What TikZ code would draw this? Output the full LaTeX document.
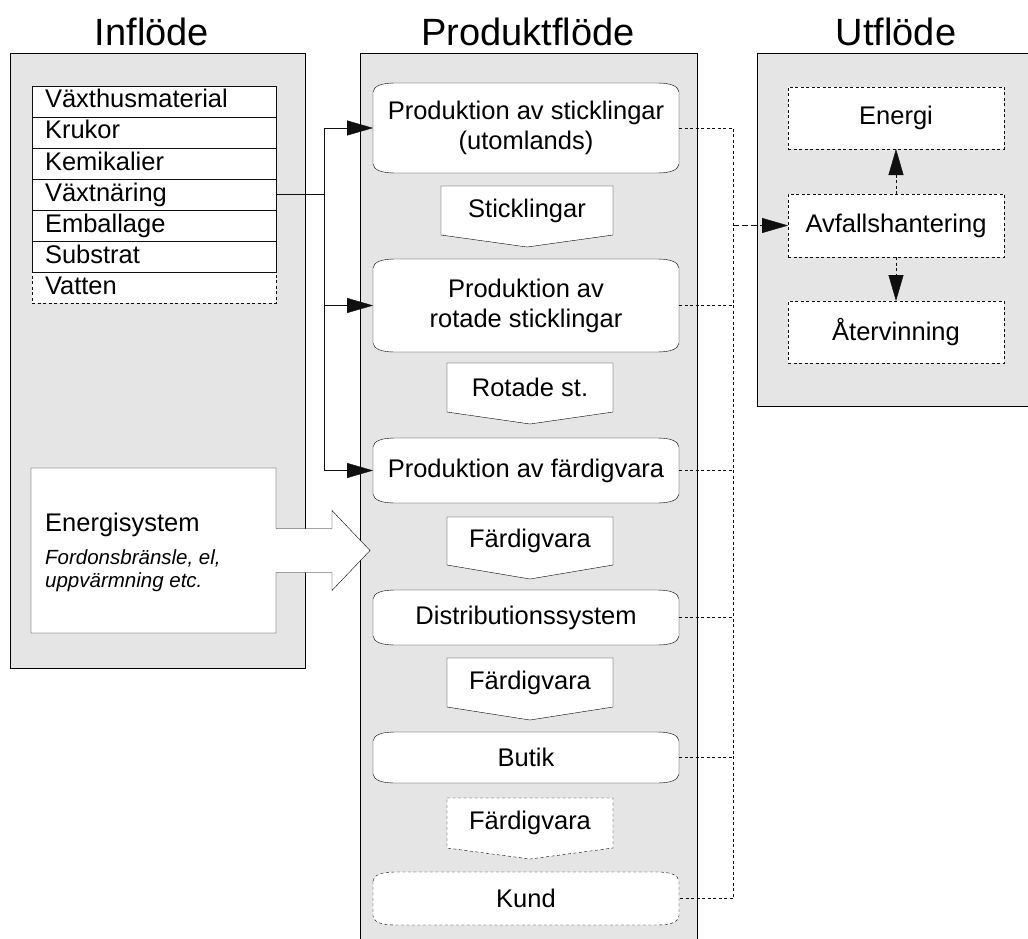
\documentclass[tikz,border=0pt]{standalone}
\usepackage{fontspec}
\setmainfont{Liberation Sans}
\usetikzlibrary{arrows.meta}
\pgfdeclarelayer{panels}
\pgfdeclarelayer{shapes}
\pgfsetlayers{panels,shapes,main}
\definecolor{panelgray}{RGB}{229,229,229}
\definecolor{lineblack}{RGB}{15,15,15}

% outline of a rounded process box around node #2
\newcommand\prodoutline[2][]{%
  \draw[fill=white,#1]
    ([shift={(0,9)}]#2.north west)
      .. controls ([shift={(1,3)}]#2.north west) and ([shift={(8,0)}]#2.north west) ..
    ([shift={(22,0)}]#2.north west)
    -- ([shift={(-22,0)}]#2.north east)
      .. controls ([shift={(-8,0)}]#2.north east) and ([shift={(-1,3)}]#2.north east) ..
    ([shift={(0,9)}]#2.north east)
    -- ([shift={(0,-9)}]#2.south east)
      .. controls ([shift={(-1,-3)}]#2.south east) and ([shift={(-8,0)}]#2.south east) ..
    ([shift={(-22,0)}]#2.south east)
    -- ([shift={(22,0)}]#2.south west)
      .. controls ([shift={(8,0)}]#2.south west) and ([shift={(1,-3)}]#2.south west) ..
    ([shift={(0,-9)}]#2.south west)
    -- cycle;}

% outline of a flow label (pentagon pointing down) around node #2, tip depth #3
\newcommand\pentoutline[3][]{%
  \draw[fill=white,#1] (#2.north west) -- (#2.north east) -- (#2.south east)
    -- ([shift={(0,#3)}]#2.south) -- (#2.south west) -- cycle;}

\tikzset{
  bodyfont/.style={font=\fontsize{25.5}{30}\selectfont},
  hdr/.style={font=\fontsize{38}{40}\selectfont, anchor=base, inner sep=0pt},
  dotpat/.style={dash pattern=on 3pt off 2.5pt},
  dashpat/.style={dash pattern=on 6pt off 3pt},
  listrow/.style={draw, fill=white, bodyfont, minimum width=244pt, minimum height=31pt,
    text width=218pt, align=left, inner xsep=13pt, inner ysep=0pt,
    text height=19pt, text depth=6pt, anchor=north west, outer sep=0pt},
  prodbox/.style={bodyfont, minimum width=306pt, outer sep=0pt, inner sep=0pt, align=center},
  flowlbl/.style={bodyfont, outer sep=0pt, inner sep=0pt},
  wastebox/.style={draw, dotpat, fill=white, bodyfont, minimum width=216pt,
    minimum height=62pt, outer sep=0pt},
  arrowhd/.style={-{Triangle[length=26pt,width=15pt]}},
}

\begin{document}
\begin{tikzpicture}[x=1pt,y=-1pt,line width=1.7pt,draw=lineblack]
\useasboundingbox (0,0) rectangle (1028,939);

% headers
\node[hdr] (hIn) at (152,46) {Inflöde};
\node[hdr] (hProd) at (528,46) {Produktflöde};
\node[hdr] (hUt) at (896,46) {Utflöde};

% panels
\begin{pgfonlayer}{panels}
  \fill[panelgray] (10,53) rectangle (305,668);
  \draw (10,53) rectangle (305,668);
  \fill[panelgray] (360,53) rectangle (697,939);
  \draw (360,939) -- (360,53) -- (697,53) -- (697,939);
  \fill[panelgray] (757,53) rectangle (1028,406);
  \draw (1028,53) -- (757,53) -- (757,406) -- (1028,406);
\end{pgfonlayer}

% input list
\node[listrow, dotpat] (r7) at (32,272) {Vatten};
\node[listrow] (r1) at (32,86) {Växthusmaterial};
\node[listrow] (r2) at (32,117) {Krukor};
\node[listrow] (r3) at (32,148) {Kemikalier};
\node[listrow] (r4) at (32,179) {Växtnäring};
\node[listrow] (r5) at (32,210) {Emballage};
\node[listrow] (r6) at (32,241) {Substrat};

% energy system (box with arrow)
\node[minimum width=245pt, minimum height=165pt, outer sep=0pt, inner sep=0pt] (eSys) at (153.5,550.5) {};
\begin{pgfonlayer}{shapes}
  \draw[fill=white] (eSys.north west) -- (eSys.north east) -- ([shift={(0,-22)}]eSys.east)
    -- ++(56,0) -- ++(0,-18) -- ([shift={(94,0)}]eSys.east)
    -- ([shift={(56,40)}]eSys.east) -- ++(0,-18) -- ([shift={(0,22)}]eSys.east)
    -- (eSys.south east) -- (eSys.south west) -- cycle;
\end{pgfonlayer}
\node[bodyfont, anchor=base west, inner sep=0pt] (eT) at (45,531) {Energisystem};
\node[font=\fontsize{20.5}{23}\selectfont\itshape, anchor=base west, inner sep=0pt] (eS1) at (45,564) {Fordonsbränsle, el,};
\node[font=\fontsize{20.5}{23}\selectfont\itshape, anchor=base west, inner sep=0pt] (eS2) at (45,587) {uppvärmning etc.};

% product flow
\node[prodbox, minimum height=90pt] (p1) at (526,128) {Produktion av sticklingar\\(utomlands)};
\node[flowlbl, minimum width=172pt, minimum height=49pt] (s1) at (527,210.5) {Sticklingar};
\node[prodbox, minimum height=93pt] (p2) at (526,305.5) {Produktion av\\rotade sticklingar};
\node[flowlbl, minimum width=166pt, minimum height=49pt] (s2) at (530,387.5) {Rotade st.};
\node[prodbox, minimum height=65pt] (p3) at (526,470.5) {Produktion av färdigvara};
\node[flowlbl, minimum width=166pt, minimum height=48pt] (s3) at (530,541) {Färdigvara};
\node[prodbox, minimum height=55pt] (p4) at (526,617.5) {Distributionssystem};
\node[flowlbl, minimum width=166pt, minimum height=49pt] (s4) at (530,682.5) {Färdigvara};
\node[prodbox, minimum height=51pt] (p5) at (526,757.5) {Butik};
\node[flowlbl, minimum width=166pt, minimum height=50pt] (s5) at (530,823) {Färdigvara};
\node[prodbox, minimum height=53pt] (p6) at (526,898.5) {Kund};

\begin{pgfonlayer}{shapes}
  \prodoutline{p1}
  \prodoutline{p2}
  \prodoutline{p3}
  \prodoutline{p4}
  \prodoutline{p5}
  \prodoutline[dotpat]{p6}
  \pentoutline{s1}{12}
  \pentoutline{s2}{12}
  \pentoutline{s3}{14}
  \pentoutline{s4}{13}
  \pentoutline[dotpat]{s5}{11}
\end{pgfonlayer}

% output
\node[wastebox] (energi) at (896,118) {Energi};
\node[wastebox, minimum height=63pt] (avf) at (896,225.5) {Avfallshantering};
\node[wastebox] (ater) at (896,332) {Återvinning};

% input connectors
\coordinate (j1) at (324,0);
\draw (r4.east) -- (r4.east -| j1);
\draw[arrowhd] (r4.east -| j1) |- (p1.west);
\draw[arrowhd] (r4.east -| j1) |- (p2.west);
\draw[arrowhd] (r4.east -| j1) |- (p3.west);

% waste connectors
\coordinate (bus) at (733,0);
\draw[dotpat] (p1.east) -- (p1.east -| bus) -- (p6.east -| bus) -- (p6.east);
\draw[dotpat] (p2.east) -- (p2.east -| bus);
\draw[dotpat] (p3.east) -- (p3.east -| bus);
\draw[dotpat] (p4.east) -- (p4.east -| bus);
\draw[dotpat] (p5.east) -- (p5.east -| bus);
\draw[dashpat, arrowhd] (avf.west -| bus) -- (avf.west);
\draw[dotpat, arrowhd] (avf.north) -- (energi.south);
\draw[dotpat, arrowhd] (avf.south) -- (ater.north);
\end{tikzpicture}
\end{document}
